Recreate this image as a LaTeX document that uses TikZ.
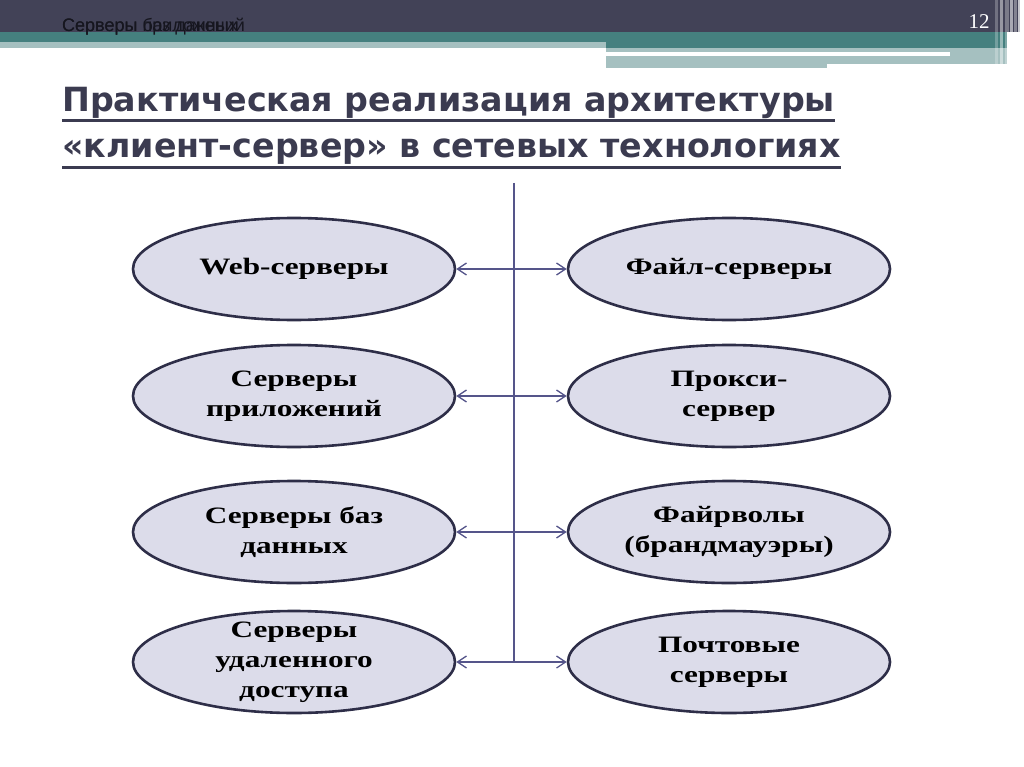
\documentclass[tikz,border=0pt]{standalone}
\usepackage{fontspec}
\setmainfont{Liberation Serif}
\newfontfamily\hdrfont{Liberation Sans}
\newfontfamily\titlefont{DejaVu Sans}
\newfontfamily\ellfont[FakeStretch=1.33]{Liberation Serif}
\usetikzlibrary{shapes.geometric,calc,arrows.meta}
\definecolor{darkbar}{HTML}{424257}
\definecolor{tealband}{HTML}{45807F}
\definecolor{lightband}{HTML}{A5C0C0}
\definecolor{titlecol}{HTML}{3B3B50}
\definecolor{ellfill}{HTML}{DCDCEA}
\definecolor{elldraw}{HTML}{2E2E48}
\definecolor{arrcol}{HTML}{55558A}
\definecolor{hdrtext}{HTML}{16161F}
\begin{document}
\begin{tikzpicture}[x=1pt,y=-1pt,
  srv/.style={ellipse, draw=elldraw, line width=2.6pt, fill=ellfill,
    minimum width=322pt, minimum height=102pt, inner sep=0pt, align=center,
    font=\ellfont\bfseries\fontsize{23.5}{30}\selectfont, text=black},
  link/.style={draw=arrcol, line width=1.3pt,
    {Straight Barb[length=9pt,width=12pt]}-{Straight Barb[length=9pt,width=12pt]}},
  vline/.style={draw=arrcol, line width=1.3pt},
  ttl/.style={anchor=base west, inner sep=0pt, text=titlecol,
    font=\titlefont\bfseries\fontsize{33.3}{33.3}\selectfont},
  uline/.style={draw=titlecol, line width=3pt},
  hdr/.style={anchor=base west, inner sep=0pt, text=hdrtext,
    font=\hdrfont\fontsize{18}{18}\selectfont}
]
\useasboundingbox (0,0) rectangle (1024,767);
\fill[white] (0,0) rectangle (1024,767);
% header bands
\fill[darkbar] (0,0) rectangle (1024,32);
\fill[tealband] (0,32) rectangle (606,42);
\fill[tealband] (606,32) rectangle (1007,48);
\fill[lightband] (0,42) rectangle (606,48);
\fill[lightband] (606,48) rectangle (1007,68);
\fill[white] (606,52) rectangle (950,56);
\fill[white] (827,64) rectangle (1007,68);
% right stripes
\fill[white, opacity=0.25] (995,0) rectangle (998,68);
\fill[white, opacity=0.45] (1000,0) rectangle (1003,68);
\fill[white, opacity=0.3] (1005,0) rectangle (1009,68);
\fill[white, opacity=0.55] (1010,0) rectangle (1013,68);
\fill[white, opacity=0.35] (1014,0) rectangle (1017,68);
\fill[white, opacity=0.7] (1018,0) rectangle (1020,68);
\fill[white] (1020,0) rectangle (1024,68);
% header texts
\node[hdr] (h1) at (62,32) {Серверы баз данных};
\node[hdr] (h2) at (62,32) {Серверы приложений};
\node[text=white, font=\fontsize{21}{21}\selectfont, inner sep=0pt] (pg) at (979,21.5) {12};
% title
\node[ttl] (t1) at (62,112) {Практическая реализация архитектуры};
\node[ttl] (t2) at (62,158) {«клиент-сервер» в сетевых технологиях};
\draw[uline] ($(t1.base west)+(0,9)$) -- ($(t1.base east)+(0,9)$);
\draw[uline] ($(t2.base west)+(0,10)$) -- ($(t2.base east)+(0,10)$);
% vertical line
\coordinate (vt) at (514,183);
% ellipses
\node[srv] (l1) at (294,269) {Web-серверы};
\node[srv] (l2) at (294,396) {Серверы\\приложений};
\node[srv] (l3) at (294,532) {Серверы баз\\данных};
\node[srv, inner ysep=-7pt] (l4) at (294,662) {Серверы\\удаленного\\доступа};
\node[srv] (r1) at (729,269) {Файл-серверы};
\node[srv] (r2) at (729,396) {Прокси-\\сервер};
\node[srv] (r3) at (729,532) {Файрволы\\(брандмауэры)};
\node[srv] (r4) at (729,662) {Почтовые\\серверы};
\draw[vline] (vt) -- (vt |- l4.center);
\draw[link] (l1) -- (r1);
\draw[link] (l2) -- (r2);
\draw[link] (l3) -- (r3);
\draw[link] (l4) -- (r4);
\end{tikzpicture}
\end{document}
